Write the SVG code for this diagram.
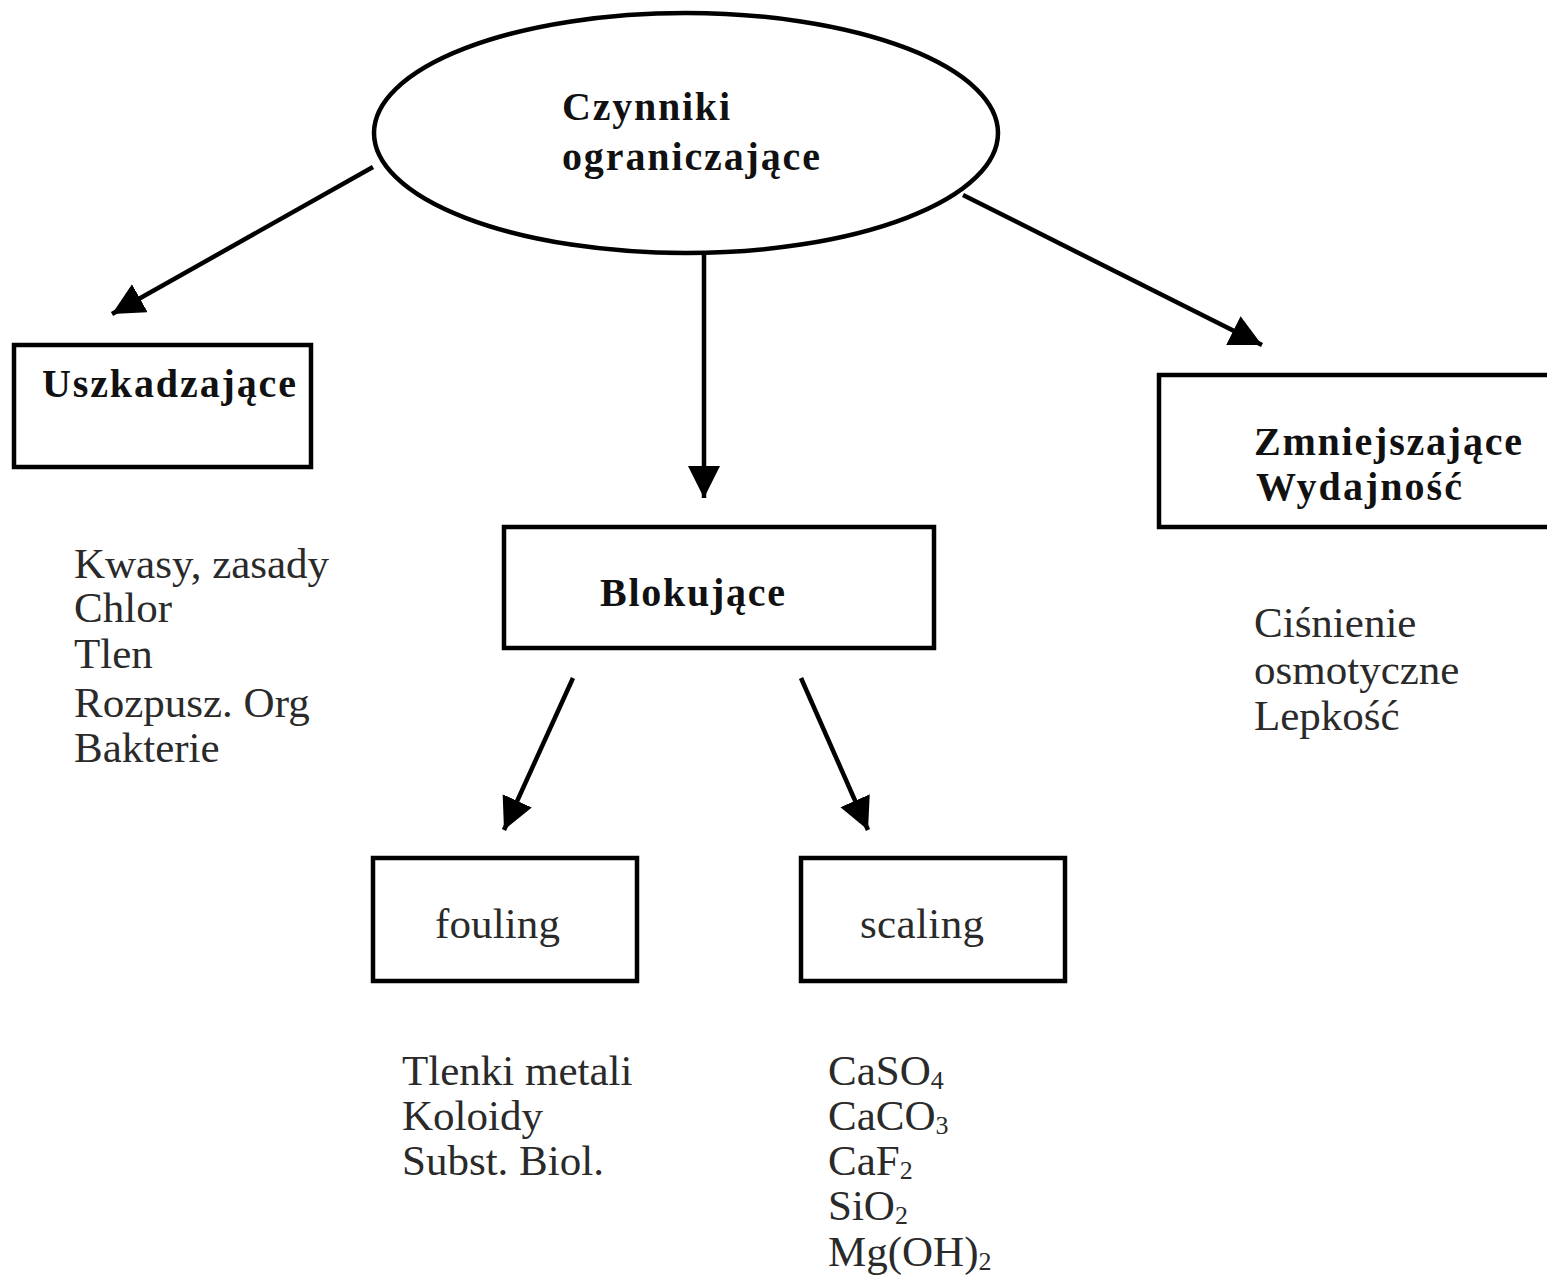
<svg xmlns="http://www.w3.org/2000/svg" width="1547" height="1277" viewBox="0 0 1547 1277">
<style>
.box{fill:#fff;stroke:#000;stroke-width:4.5}
.hd{font-family:"Liberation Serif","Times New Roman",serif;font-weight:bold;font-size:40px;fill:#111}
.tx{font-family:"Liberation Serif","Times New Roman",serif;font-size:43px;fill:#2a2a2a}
.sub{font-size:26px}
.conn line{stroke:#000;stroke-width:4.5}
</style>
<defs>
<marker id="ah" markerUnits="userSpaceOnUse" markerWidth="36" markerHeight="36" refX="32" refY="16" orient="auto">
<path d="M0,0 L32,16 L0,32 Z" fill="#000"/>
</marker>
</defs>
<rect width="1547" height="1277" fill="#fff"/>
<g id="n-czynniki">
<ellipse class="box" cx="686" cy="133" rx="312" ry="120" stroke-width="5"/>
<text class="hd" x="562" y="120" font-size="42" textLength="168">Czynniki</text>
<text class="hd" x="562" y="170" font-size="42" textLength="258">ograniczające</text>
</g>
<g id="n-uszkadzajace">
<rect class="box" x="14" y="345" width="297" height="122"/>
<text class="hd" x="42" y="397" textLength="254">Uszkadzające</text>
</g>
<g id="n-blokujace">
<rect class="box" x="504" y="527" width="430" height="121"/>
<text class="hd" x="600" y="606" textLength="185">Blokujące</text>
</g>
<g id="n-zmniejszajace">
<rect class="box" x="1159" y="375" width="400" height="152"/>
<text class="hd" x="1254" y="455" textLength="268">Zmniejszające</text>
<text class="hd" x="1256" y="500" textLength="206">Wydajność</text>
</g>
<g id="n-fouling">
<rect class="box" x="373" y="858" width="264" height="123"/>
<text class="tx" x="435" y="938" textLength="125">fouling</text>
</g>
<g id="n-scaling">
<rect class="box" x="801" y="858" width="264" height="123"/>
<text class="tx" x="860" y="938" textLength="124">scaling</text>
</g>
<g id="l-uszkadzajace" class="tx">
<text x="74" y="578">Kwasy, zasady</text>
<text x="74" y="622">Chlor</text>
<text x="74" y="668">Tlen</text>
<text x="74" y="717">Rozpusz. Org</text>
<text x="74" y="762">Bakterie</text>
</g>
<g id="l-zmniejszajace" class="tx">
<text x="1254" y="637">Ciśnienie</text>
<text x="1254" y="684">osmotyczne</text>
<text x="1254" y="730">Lepkość</text>
</g>
<g id="l-fouling" class="tx">
<text x="402" y="1085">Tlenki metali</text>
<text x="402" y="1130">Koloidy</text>
<text x="402" y="1175">Subst. Biol.</text>
</g>
<g id="l-scaling" class="tx">
<text x="828" y="1085">CaSO<tspan class="sub" dy="4">4</tspan></text>
<text x="828" y="1130">CaCO<tspan class="sub" dy="4">3</tspan></text>
<text x="828" y="1175">CaF<tspan class="sub" dy="4">2</tspan></text>
<text x="828" y="1220">SiO<tspan class="sub" dy="4">2</tspan></text>
<text x="828" y="1266">Mg(OH)<tspan class="sub" dy="4">2</tspan></text>
</g>
<g id="connectors" class="conn">
<line x1="373" y1="167" x2="112" y2="314" marker-end="url(#ah)"/>
<line x1="704" y1="255" x2="704" y2="498" marker-end="url(#ah)"/>
<line x1="963" y1="195" x2="1262" y2="345" marker-end="url(#ah)"/>
<line x1="573" y1="678" x2="504" y2="830" marker-end="url(#ah)"/>
<line x1="801" y1="678" x2="868" y2="830" marker-end="url(#ah)"/>
</g>
</svg>
